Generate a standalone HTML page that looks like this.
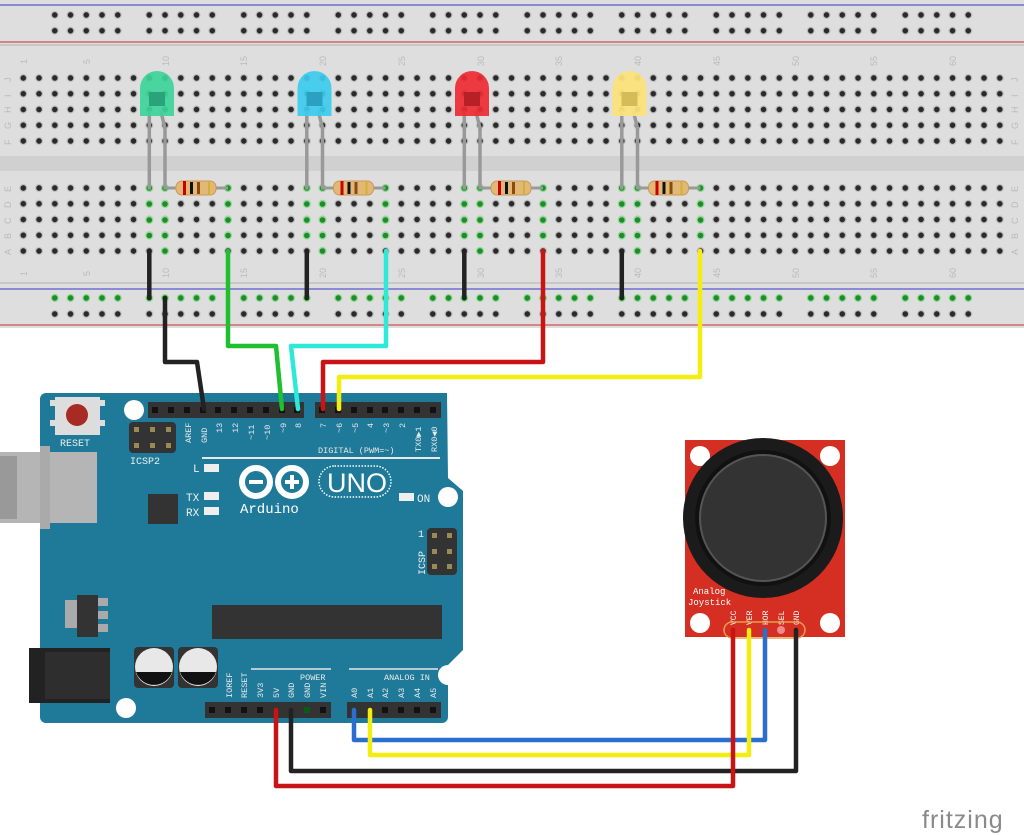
<!DOCTYPE html>
<html><head><meta charset="utf-8"><style>
html,body{margin:0;padding:0;background:#fff;width:1024px;height:835px;overflow:hidden}
svg{display:block}
</style></head><body>
<svg width="1024" height="835" viewBox="0 0 1024 835" xmlns="http://www.w3.org/2000/svg" font-family="Liberation Mono, DejaVu Sans Mono, monospace">
<defs>
<pattern id="hg" patternUnits="userSpaceOnUse" x="15.425" y="70.125" width="15.75" height="15.75">
<circle cx="7.875" cy="7.875" r="4" fill="#c0c0c0"/><circle cx="7.875" cy="7.875" r="2.8" fill="#2a2a2a"/></pattern>
<pattern id="hg2" patternUnits="userSpaceOnUse" x="15.425" y="180.125" width="15.75" height="15.75">
<circle cx="7.875" cy="7.875" r="4" fill="#c0c0c0"/><circle cx="7.875" cy="7.875" r="2.8" fill="#2a2a2a"/></pattern>
<g id="g5d"><circle cx="7.875" cy="7.875" r="4" fill="#c0c0c0"/><circle cx="7.875" cy="7.875" r="2.8" fill="#2a2a2a"/></g>
<pattern id="rt" patternUnits="userSpaceOnUse" x="46.9" y="7.1" width="94.5" height="15.75">
<use href="#g5d" x="0"/><use href="#g5d" x="15.75"/><use href="#g5d" x="31.5"/><use href="#g5d" x="47.25"/><use href="#g5d" x="63"/></pattern>
<pattern id="rb" patternUnits="userSpaceOnUse" x="46.9" y="306.1" width="94.5" height="15.75">
<use href="#g5d" x="0"/><use href="#g5d" x="15.75"/><use href="#g5d" x="31.5"/><use href="#g5d" x="47.25"/><use href="#g5d" x="63"/></pattern>
<g id="gd"><circle r="4" fill="#8fdc8f"/><circle r="2.8" fill="#1f8a2e"/></g>
<pattern id="rg" patternUnits="userSpaceOnUse" x="46.9" y="290.1" width="94.5" height="15.75">
<use href="#gd" x="7.875" y="7.875"/><use href="#gd" x="23.625" y="7.875"/><use href="#gd" x="39.375" y="7.875"/><use href="#gd" x="55.125" y="7.875"/><use href="#gd" x="70.875" y="7.875"/></pattern>
<g id="res">
<line x1="0" y1="0" x2="63" y2="0" stroke="#999" stroke-width="3"/>
<rect x="11" y="-7" width="40" height="14" rx="6" fill="#e2b877" stroke="#c99a55"/>
<rect x="18" y="-7" width="3" height="14" fill="#c00"/><rect x="25" y="-6" width="3" height="12" fill="#111"/><rect x="32" y="-6" width="3" height="12" fill="#8a4a10"/><rect x="43" y="-7" width="2" height="14" fill="#d4b030"/>
</g>
</defs>
<rect x="0" y="0" width="1024" height="328" fill="#dedede"/>
<rect x="0" y="44" width="1024" height="2" fill="#c8c8c8"/>
<rect x="0" y="282" width="1024" height="2" fill="#c8c8c8"/>
<line x1="0" y1="5" x2="1024" y2="5" stroke="#5a5ad0" stroke-width="1.3"/>
<line x1="0" y1="42" x2="1024" y2="42" stroke="#d05050" stroke-width="1.3"/>
<line x1="0" y1="289" x2="1024" y2="289" stroke="#5a5ad0" stroke-width="1.3"/>
<line x1="0" y1="325" x2="1024" y2="325" stroke="#d05050" stroke-width="1.3"/>
<rect x="0" y="156" width="1024" height="15" fill="#d0d0d0"/>
<rect x="46.9" y="7.1" width="945" height="31.5" fill="url(#rt)"/>
<rect x="46.9" y="306.1" width="945" height="15.75" fill="url(#rb)"/>
<rect x="46.9" y="290.1" width="945" height="15.75" fill="url(#rg)"/>
<rect x="15.425" y="70.125" width="992.25" height="78.75" fill="url(#hg)"/>
<rect x="15.425" y="180.125" width="992.25" height="78.75" fill="url(#hg2)"/>
<g fill="#bbb" font-size="9" font-family="Liberation Sans, sans-serif">
<text transform="translate(27,64) rotate(-90)">1</text><text transform="translate(90,64) rotate(-90)">5</text><text transform="translate(169,66) rotate(-90)">10</text><text transform="translate(247,66) rotate(-90)">15</text><text transform="translate(326,66) rotate(-90)">20</text><text transform="translate(405,66) rotate(-90)">25</text><text transform="translate(484,66) rotate(-90)">30</text><text transform="translate(562,66) rotate(-90)">35</text><text transform="translate(641,66) rotate(-90)">40</text><text transform="translate(720,66) rotate(-90)">45</text><text transform="translate(799,66) rotate(-90)">50</text><text transform="translate(877,66) rotate(-90)">55</text><text transform="translate(956,66) rotate(-90)">60</text>
<text transform="translate(27,276) rotate(-90)">1</text><text transform="translate(90,276) rotate(-90)">5</text><text transform="translate(169,278) rotate(-90)">10</text><text transform="translate(247,278) rotate(-90)">15</text><text transform="translate(326,278) rotate(-90)">20</text><text transform="translate(405,278) rotate(-90)">25</text><text transform="translate(484,278) rotate(-90)">30</text><text transform="translate(562,278) rotate(-90)">35</text><text transform="translate(641,278) rotate(-90)">40</text><text transform="translate(720,278) rotate(-90)">45</text><text transform="translate(799,278) rotate(-90)">50</text><text transform="translate(877,278) rotate(-90)">55</text><text transform="translate(956,278) rotate(-90)">60</text>
<text transform="translate(11,82) rotate(-90)">J</text><text transform="translate(11,97) rotate(-90)">I</text><text transform="translate(11,113) rotate(-90)">H</text><text transform="translate(11,129) rotate(-90)">G</text><text transform="translate(11,145) rotate(-90)">F</text>
<text transform="translate(11,192) rotate(-90)">E</text><text transform="translate(11,208) rotate(-90)">D</text><text transform="translate(11,224) rotate(-90)">C</text><text transform="translate(11,239) rotate(-90)">B</text><text transform="translate(11,255) rotate(-90)">A</text>
<text transform="translate(1018,82) rotate(-90)">J</text><text transform="translate(1018,97) rotate(-90)">I</text><text transform="translate(1018,113) rotate(-90)">H</text><text transform="translate(1018,129) rotate(-90)">G</text><text transform="translate(1018,145) rotate(-90)">F</text>
<text transform="translate(1018,192) rotate(-90)">E</text><text transform="translate(1018,208) rotate(-90)">D</text><text transform="translate(1018,224) rotate(-90)">C</text><text transform="translate(1018,239) rotate(-90)">B</text><text transform="translate(1018,255) rotate(-90)">A</text>
</g>
<g id="set1">
<use href="#gd" x="149.3" y="188"/><use href="#gd" x="165" y="188"/><use href="#gd" x="228" y="188"/>
<use href="#gd" x="149.3" y="204"/><use href="#gd" x="165" y="204"/><use href="#gd" x="228" y="204"/>
<use href="#gd" x="149.3" y="220"/><use href="#gd" x="165" y="220"/><use href="#gd" x="228" y="220"/>
<use href="#gd" x="149.3" y="235.5"/><use href="#gd" x="165" y="235.5"/><use href="#gd" x="228" y="235.5"/>
<use href="#gd" x="165" y="251"/>
</g>
<use href="#set1" x="157.5"/><use href="#set1" x="315"/><use href="#set1" x="472.5"/>
<g id="led" stroke-linecap="round">
<line x1="149.3" y1="112" x2="149.3" y2="188" stroke="#999" stroke-width="3.5"/>
<polyline points="161,112 165,128 165,188" fill="none" stroke="#999" stroke-width="3.5"/>
</g>
<use href="#led" x="157.5"/><use href="#led" x="315"/><use href="#led" x="472.5"/>
<path d="M140,116 V88 a17,17 0 0 1 34,0 V116 Z" fill="#3dd39a" opacity="0.92"/><path d="M149,92 h16 v14 h-16z" fill="#2aa27a"/>
<path d="M297.5,116 V88 a17,17 0 0 1 34,0 V116 Z" fill="#3ccbee" opacity="0.92"/><path d="M306.5,92 h16 v14 h-16z" fill="#2ba0c0"/>
<path d="M455,116 V88 a17,17 0 0 1 34,0 V116 Z" fill="#ee2b32" opacity="0.92"/><path d="M464,92 h16 v14 h-16z" fill="#b82028"/>
<path d="M612.5,116 V88 a17,17 0 0 1 34,0 V116 Z" fill="#fbe27a" opacity="0.95"/><path d="M621.5,92 h16 v14 h-16z" fill="#d6bc58"/>
<use href="#res" x="165" y="188"/><use href="#res" x="322.5" y="188"/><use href="#res" x="480" y="188"/><use href="#res" x="637.5" y="188"/>
<g stroke="#222" stroke-width="4.5" stroke-linecap="round">
<line x1="149.3" y1="251" x2="149.3" y2="298"/><line x1="306.8" y1="251" x2="306.8" y2="298"/><line x1="464.3" y1="251" x2="464.3" y2="298"/><line x1="621.8" y1="251" x2="621.8" y2="298"/>
</g>
<path d="M46,393 H447 L448,478 L463,491 V650 L448,665 V717 a6,6 0 0 1 -6,6 H46 a6,6 0 0 1 -6,-6 V399 a6,6 0 0 1 6,-6Z" fill="#1f7a99"/>
<circle cx="134" cy="410" r="10" fill="#fff"/><circle cx="448" cy="497" r="10" fill="#fff"/><circle cx="448" cy="675" r="10" fill="#fff"/><circle cx="126" cy="708" r="10" fill="#fff"/>
<rect x="50" y="400" width="55" height="6" fill="#ddd"/><rect x="50" y="420" width="55" height="6" fill="#ddd"/>
<rect x="55" y="397" width="45" height="38" fill="#ddd"/><circle cx="77" cy="415" r="11" fill="#a82a25"/>
<text x="60" y="446" font-size="10" fill="#eee">RESET</text>
<rect x="129" y="422" width="47" height="31" rx="4" fill="#333"/>
<g fill="#9a8a55"><rect x="134" y="427" width="5" height="5"/><rect x="150" y="427" width="5" height="5"/><rect x="166" y="427" width="5" height="5"/><rect x="134" y="443" width="5" height="5"/><rect x="150" y="443" width="5" height="5"/><rect x="166" y="443" width="5" height="5"/></g>
<text x="130" y="464" font-size="10" fill="#eee">ICSP2</text>
<rect x="0" y="452" width="97" height="71" fill="#b5b5b5"/><rect x="0" y="456" width="17" height="63" fill="#999"/><rect x="40" y="446" width="10" height="83" fill="#aaa"/>
<rect x="148" y="494" width="30" height="30" fill="#333"/>
<rect x="65" y="600" width="12" height="28" fill="#aaa"/><rect x="98" y="598" width="10" height="8" fill="#aaa"/><rect x="98" y="611" width="10" height="8" fill="#aaa"/><rect x="98" y="624" width="10" height="8" fill="#aaa"/>
<rect x="77" y="595" width="21" height="42" fill="#333"/>
<rect x="29" y="648" width="81" height="55" fill="#222"/><rect x="45" y="652" width="65" height="47" fill="#2e2e2e"/>
<rect x="134" y="647" width="40" height="41" rx="4" fill="#333"/><circle cx="154" cy="667" r="19" fill="#e8e8e8"/><path d="M136,672 A19,19 0 0 0 172,672Z" fill="#111"/>
<rect x="178" y="647" width="40" height="41" rx="4" fill="#333"/><circle cx="198" cy="667" r="19" fill="#e8e8e8"/><path d="M180,672 A19,19 0 0 0 216,672Z" fill="#111"/>
<rect x="212" y="605" width="230" height="34" fill="#333"/>
<rect x="427" y="528" width="30" height="47" rx="4" fill="#333"/>
<g fill="#9a8a55"><rect x="432" y="533" width="5" height="5"/><rect x="447" y="533" width="5" height="5"/><rect x="432" y="549" width="5" height="5"/><rect x="447" y="549" width="5" height="5"/><rect x="432" y="564" width="5" height="5"/><rect x="447" y="564" width="5" height="5"/></g>
<text x="418" y="537" font-size="10" fill="#eee">1</text>
<text transform="translate(425,575) rotate(-90)" font-size="10" fill="#eee">ICSP</text>
<rect x="148" y="402" width="156" height="16" fill="#333"/><rect x="315" y="402" width="126" height="16" fill="#333"/>
<g fill="#111">
<rect x="152" y="407" width="6" height="6"/><rect x="168" y="407" width="6" height="6"/><rect x="184" y="407" width="6" height="6"/><rect x="200" y="407" width="6" height="6"/><rect x="215" y="407" width="6" height="6"/><rect x="231" y="407" width="6" height="6"/><rect x="247" y="407" width="6" height="6"/><rect x="263" y="407" width="6" height="6"/><rect x="279" y="407" width="6" height="6"/><rect x="294" y="407" width="6" height="6"/>
<rect x="319" y="407" width="6" height="6"/><rect x="335" y="407" width="6" height="6"/><rect x="351" y="407" width="6" height="6"/><rect x="367" y="407" width="6" height="6"/><rect x="382" y="407" width="6" height="6"/><rect x="398" y="407" width="6" height="6"/><rect x="414" y="407" width="6" height="6"/><rect x="430" y="407" width="6" height="6"/>
</g>
<g font-size="8.5" fill="#e8e8e8">
<text transform="translate(191,443) rotate(-90)">AREF</text><text transform="translate(207,443) rotate(-90)">GND</text><text transform="translate(222,433) rotate(-90)">13</text><text transform="translate(238,433) rotate(-90)">12</text><text transform="translate(254,440) rotate(-90)">~11</text><text transform="translate(270,440) rotate(-90)">~10</text><text transform="translate(286,433) rotate(-90)">~9</text><text transform="translate(301,428) rotate(-90)">8</text>
<text transform="translate(326,428) rotate(-90)">7</text><text transform="translate(342,433) rotate(-90)">~6</text><text transform="translate(358,433) rotate(-90)">~5</text><text transform="translate(373,428) rotate(-90)">4</text><text transform="translate(389,433) rotate(-90)">~3</text><text transform="translate(405,428) rotate(-90)">2</text><text transform="translate(421,452) rotate(-90)">TX0▶1</text><text transform="translate(437,452) rotate(-90)">RX0◀0</text>
<text x="318" y="453">DIGITAL (PWM=~)</text>
<text transform="translate(232,698) rotate(-90)">IOREF</text><text transform="translate(247,698) rotate(-90)">RESET</text><text transform="translate(263,698) rotate(-90)">3V3</text><text transform="translate(279,698) rotate(-90)">5V</text><text transform="translate(294,698) rotate(-90)">GND</text><text transform="translate(310,698) rotate(-90)">GND</text><text transform="translate(326,698) rotate(-90)">VIN</text>
<text x="300" y="680">POWER</text><text x="384" y="680">ANALOG IN</text>
<text transform="translate(357,698) rotate(-90)">A0</text><text transform="translate(373,698) rotate(-90)">A1</text><text transform="translate(388,698) rotate(-90)">A2</text><text transform="translate(404,698) rotate(-90)">A3</text><text transform="translate(420,698) rotate(-90)">A4</text><text transform="translate(436,698) rotate(-90)">A5</text>
</g>
<line x1="202" y1="458" x2="440" y2="458" stroke="#e8e8e8" stroke-width="2"/>
<line x1="251" y1="669" x2="331" y2="669" stroke="#e8e8e8" stroke-width="1.5"/><line x1="349" y1="669" x2="438" y2="669" stroke="#e8e8e8" stroke-width="1.5"/>
<g font-size="11" fill="#eee"><text x="193" y="472">L</text><text x="186" y="501">TX</text><text x="186" y="516">RX</text><text x="417" y="502">ON</text></g>
<g fill="#eee"><rect x="204" y="464" width="15" height="8"/><rect x="204" y="492" width="15" height="8"/><rect x="204" y="507" width="15" height="8"/><rect x="399" y="493" width="15" height="8"/></g>
<g fill="none" stroke="#fff" stroke-width="6"><circle cx="256" cy="482" r="14"/><circle cx="292" cy="482" r="14"/></g>
<rect x="249" y="480" width="14" height="4" fill="#fff"/><rect x="285" y="480" width="14" height="4" fill="#fff"/><rect x="290" y="475" width="4" height="14" fill="#fff"/>
<rect x="319" y="466" width="72" height="31" rx="15.5" fill="none" stroke="#fff" stroke-width="1.5" stroke-dasharray="1.5 1.5"/>
<text x="327" y="492" font-size="27" fill="#fff" font-family="Liberation Sans, sans-serif">UNO</text>
<text x="240" y="513" font-size="14" fill="#fff">Arduino</text>
<rect x="205" y="702" width="126" height="16" fill="#333"/><rect x="347" y="702" width="94" height="16" fill="#333"/>
<g fill="#111">
<rect x="209" y="707" width="6" height="6"/><rect x="225" y="707" width="6" height="6"/><rect x="241" y="707" width="6" height="6"/><rect x="257" y="707" width="6" height="6"/><rect x="304" y="707" width="6" height="6" fill="#0a5a1a"/><rect x="320" y="707" width="6" height="6"/>
<rect x="382" y="707" width="6" height="6"/><rect x="398" y="707" width="6" height="6"/><rect x="414" y="707" width="6" height="6"/><rect x="430" y="707" width="6" height="6"/>
</g>
<rect x="685" y="440" width="160" height="197" fill="#d42f22"/>
<circle cx="700" cy="456" r="10" fill="#fff"/><circle cx="830" cy="456" r="10" fill="#fff"/><circle cx="700" cy="623" r="10" fill="#fff"/><circle cx="830" cy="623" r="10" fill="#fff"/>
<circle cx="763" cy="518" r="80" fill="#1b1b1b"/><circle cx="763" cy="518" r="68" fill="#111"/><circle cx="763" cy="518" r="63" fill="#333" stroke="#555" stroke-width="2"/>
<text x="693" y="594" font-size="9" fill="#fff">Analog</text><text x="688" y="605" font-size="9" fill="#fff">Joystick</text>
<g font-size="8" fill="#fff"><text transform="translate(736,625) rotate(-90)">VCC</text><text transform="translate(752,625) rotate(-90)">VER</text><text transform="translate(768,625) rotate(-90)">HOR</text><text transform="translate(784,625) rotate(-90)">SEL</text><text transform="translate(799,625) rotate(-90)">GND</text></g>
<rect x="724" y="622" width="81" height="16" rx="8" fill="none" stroke="#e3a24a" stroke-width="1.5"/>
<circle cx="781" cy="630" r="4" fill="#f08a8a"/>
<g fill="none" stroke-width="4.5" stroke-linecap="round" stroke-linejoin="round">
<polyline points="165,298 165,362 197,362 204,409" stroke="#222"/>
<polyline points="228,251 228,346 276,346 282,409" stroke="#1fbf2f"/>
<polyline points="386,251 386,346 291,346 298,409" stroke="#2ee8d8"/>
<polyline points="543,251 543,362 323,362 323,409" stroke="#c81414"/>
<polyline points="700,251 700,377 339,377 339,409" stroke="#f4ee10"/>
<polyline points="354,710 354,740 765,740 765,630" stroke="#2a6fd0"/>
<polyline points="370,710 370,755 749,755 749,630" stroke="#f4ee10"/>
<polyline points="291,710 291,771 796,771 796,630" stroke="#222"/>
<polyline points="276,710 276,786 733,786 733,630" stroke="#c81414"/>
</g>
<text x="922" y="828" font-size="25" fill="#8a8a8a" font-family="Liberation Sans, sans-serif" letter-spacing="1">fritzing</text>
</svg>
</body></html>
